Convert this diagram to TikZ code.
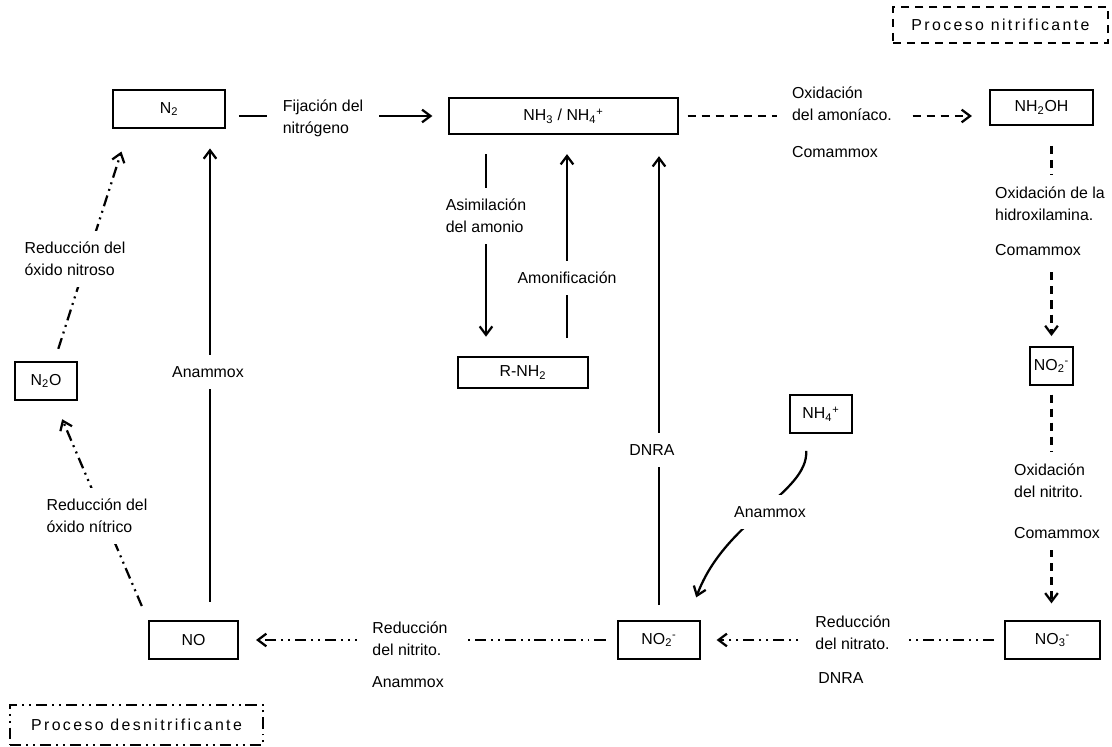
\documentclass[tikz,border=0pt]{standalone}
\usepackage{fontspec}
\setmainfont{Liberation Sans}
\usetikzlibrary{arrows.meta}

\tikzset{
  box/.style={draw, line width=1.6pt, inner sep=2pt, minimum height=26.5pt},
  thinbox/.style={draw, line width=0.9pt, inner sep=2pt, minimum height=22pt},
  lbl/.style={fill=white, align=left, inner xsep=11pt, inner ysep=8pt},
  txt/.style={align=left, inner sep=1pt},
  flow/.style={line width=1.6pt},
  nitr/.style={line width=1.6pt, dash pattern=on 5.7pt off 4.3pt},
  desn/.style={line width=1.6pt, dash pattern=on 8pt off 3.5pt on 1.4pt off 3.5pt on 1.4pt off 3.5pt},
  legtext/.style={font=\fontsize{11.3}{15.5}\selectfont\addfontfeatures{LetterSpace=15}}
}

\begin{document}
\begin{tikzpicture}[x=0.025cm, y=-0.025cm, >={Straight Barb[length=6pt,width=9pt]},
    every node/.style={font=\fontsize{11.3}{15.5}\selectfont}]
  \useasboundingbox (0,0) rectangle (1112,747);
  % especies
  \node[box, minimum width=79.7pt] (N2) at (169,109) {N\textsubscript{2}};
  \node[box, minimum width=162.9pt, minimum height=25.6pt] (NH3) at (563.5,116) {NH\textsubscript{3} / NH\textsubscript{4}\textsuperscript{+}};
  \node[box, minimum width=73.3pt, minimum height=24.9pt] (NH2OH) at (1041.5,107.5) {NH\textsubscript{2}OH};
  \node[box, minimum width=30.6pt, minimum height=27pt] (NO2r) at (1051.5,366) {NO\textsubscript{2}\textsuperscript{-}};
  \node[box, minimum width=67.6pt] (NO3) at (1052.5,640) {NO\textsubscript{3}\textsuperscript{-}};
  \node[box, minimum width=58.3pt, minimum height=27pt] (NO2b) at (659,640) {NO\textsubscript{2}\textsuperscript{-}};
  \node[box, minimum width=63.3pt] (NO) at (193.5,640) {NO};
  \node[box, minimum width=44.1pt, minimum height=27pt] (N2O) at (46,381) {N\textsubscript{2}O};
  \node[box, minimum width=44.1pt, minimum height=27pt] (NH4p) at (821,414) {NH\textsubscript{4}\textsuperscript{+}};
  \node[thinbox, minimum width=92.5pt] (RNH2) at (523,372.5) {R-NH\textsubscript{2}};
  \coordinate (asim) at (486,0);
  \coordinate (amon) at (567,0);
  \coordinate (anam) at (210,0);

  % fijacion y ciclo del amonio
  \draw[flow, ->, shorten <=9pt, shorten >=11pt] (N2.east |- NH3.west) -- (NH3.west);
  \draw[flow, ->, shorten <=13.5pt, shorten >=14pt] (NH3.south -| asim) -- (RNH2.north -| asim);
  \draw[flow, ->, shorten <=13pt, shorten >=13.5pt] (RNH2.north -| amon) -- (NH3.south -| amon);
  \draw[flow, ->, shorten <=10.5pt, shorten >=15pt] (NO2b.north) -- (NH3.south -| NO2b.north);
  \draw[flow, ->, shorten <=13pt, shorten >=14pt] (NO.north -| anam) -- (N2.south -| anam);
  \draw[flow, ->] ([xshift=-10.5pt, yshift=-12pt]NH4p.south)
    .. controls +(2,42) and +(29,-78) .. ([xshift=-3.5pt, yshift=16pt]NO2b.north east);

  % nitrificacion
  \draw[nitr, ->, shorten <=6pt, shorten >=12pt] (NH3.east) -- (NH3.east -| NH2OH.west);
  \draw[nitr, ->, shorten <=14pt, shorten >=7pt] (NH2OH.south -| NO2r.north) -- (NO2r.north);
  \draw[nitr, ->, shorten <=6pt, shorten >=12pt] (NO2r.south) -- (NO2r.south |- NO3.north);

  % desnitrificacion
  \draw[desn, ->, shorten <=7pt, shorten >=11pt] (NO3.west) -- (NO2b.east);
  \draw[desn, ->, shorten <=8pt, shorten >=12pt] (NO2b.west) -- (NO.east);
  \draw[desn, ->, shorten <=11pt, shorten >=14pt] (NO.north west) -- ([xshift=6pt]N2O.south);
  \draw[desn, ->, shorten <=9pt, shorten >=17pt] ([xshift=6pt]N2O.north) -- ([xshift=12pt]N2.south west);

  % etiquetas
  \node[lbl] (fij) at (323,118) {Fijación del\\nitrógeno};
  \node[lbl] (oxam) at (842,104) {Oxidación\\del amoníaco.};
  \node[txt] (com1) at (835,152) {Comammox};
  \node[lbl] (oxhi) at (1050,221) {Oxidación de la\\hidroxilamina.\\[9.4pt]Comammox};
  \node[lbl] (oxni) at (1057,501) {Oxidación\\del nitrito.\\[13.7pt]Comammox};
  \node[lbl] (rnat) at (853,633) {Reducción\\del nitrato.};
  \node[txt] (dnra2) at (841,678) {DNRA};
  \node[lbl] (rnit) at (410,639) {Reducción\\del nitrito.};
  \node[txt] (anam2) at (408,682) {Anammox};
  \node[lbl] (rnitroso) at (75,259) {Reducción del\\óxido nitroso};
  \node[lbl] (rnitrico) at (97,516) {Reducción del\\óxido nítrico};
  \node[lbl] (asimlbl) at (486,216) {Asimilación\\del amonio};
  \node[lbl] (amonlbl) at (567,278) {Amonificación};
  \node[lbl] (anamlbl) at (208,372) {Anammox};
  \node[lbl] (dnralbl) at (652,450) {DNRA};
  \node[lbl] (anamcur) at (770,512) {Anammox};

  % leyenda
  \node[draw, nitr, legtext, minimum width=153pt, minimum height=25.6pt] (legN) at (1000.5,25) {Proceso nitrificante};
  \node[draw, desn, legtext, minimum width=180pt, minimum height=28.5pt] (legD) at (136.5,725) {Proceso desnitrificante};
\end{tikzpicture}
\end{document}
